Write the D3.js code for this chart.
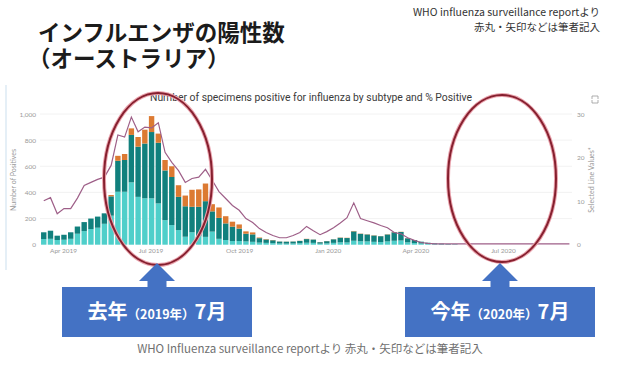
<!DOCTYPE html>
<html>
<head>
<meta charset="utf-8">
<script src="https://cdn.jsdelivr.net/npm/d3@7"></script>
<style>
  html, body { margin: 0; padding: 0; background: #fff; }
  svg { display: block; }
</style>
</head>
<body>
<svg width="622" height="366"></svg>
<script>
// weekly counts (bottom / middle / top segment)
var lightVals = [43, 45, 36, 38, 45, 84, 104, 120, 130, 160,
  222, 405, 405, 477, 366, 355, 355, 316, 188, 150,
  112, 61, 95, 65, 60, 100, 45, 36, 28, 28,
  25, 22, 16, 14, 12, 9, 8, 9, 11, 15,
  14, 8, 10, 14, 18, 17, 30, 26, 25, 22,
  20, 25, 30, 32, 18, 13, 9, 6, 4, 3, 2, 2];
var darkVals = [52, 62, 33, 38, 50, 55, 69, 80, 85, 80,
  148, 237, 243, 363, 384, 419, 507, 464, 380, 368,
  254, 233, 195, 225, 273, 155, 160, 127, 110, 95,
  59, 57, 34, 26, 22, 15, 15, 15, 18, 28,
  25, 11, 17, 27, 35, 34, 72, 57, 53, 48,
  45, 53, 65, 65, 31, 23, 14, 9, 6, 5, 3, 2];
var orangeVals = [0, 0, 0, 0, 0, 0, 0, 0, 0, 0,
  10, 38, 46, 50, 74, 106, 122, 70, 80, 82,
  89, 82, 130, 133, 135, 55, 80, 55, 38, 32,
  18, 15, 5, 3, 2, 1, 1, 1, 1, 2,
  1, 1, 1, 1, 2, 2, 3, 2, 2, 2,
  1, 2, 2, 2, 1, 0, 0, 0, 0, 0, 0, 0];
// % positive (right axis)
var pctVals = [10.1, 10.8, 7.1, 8.3, 8.3, 10.7, 13.6, 14.3, 15.0, 15.5,
  18.2, 25.2, 24.7, 29.3, 25.9, 27.0, 26.8, 28.0, 21.2, 18.9,
  17.0, 14.3, 15.2, 15.5, 17.3, 14.8, 12.2, 10.6, 9.0, 7.9,
  6.0, 5.1, 3.7, 2.8, 2.1, 1.6, 1.6, 2.1, 2.8, 4.2,
  3.2, 2.3, 3.0, 3.9, 5.0, 6.2, 9.6, 6.0, 5.5, 5.0,
  4.4, 3.9, 2.8, 2.5, 1.6, 1.0, 0.5, 0.3, 0.2, 0.2,
  0.2, 0.2, 0.2, 0.2, 0.2, 0.2, 0.2, 0.2, 0.2, 0.2,
  0.2, 0.2, 0.2, 0.2, 0.2, 0.2, 0.2, 0.2, 0.2];
var firstWeek = new Date(2019, 2, 12);
var weeks = d3.range(pctVals.length).map(function (i) { return d3.timeDay.offset(firstWeek, 7 * i); });
var xTicks = [new Date(2019, 3, 1), new Date(2019, 6, 1), new Date(2019, 9, 1),
  new Date(2020, 0, 1), new Date(2020, 3, 1), new Date(2020, 6, 1)];
var leftTicks = [0, 200, 400, 600, 800, 1000];
var rightTicks = [0, 10, 20, 30];
var keys = ["light", "dark", "orange"];
var colors = { light: "#4fcfca", dark: "#11807d", orange: "#dc7a32" };

var svg = d3.select("svg");
var jp = "'Noto Sans CJK JP', 'Noto Sans', sans-serif";

// scales
var x = d3.scaleTime().domain([xTicks[0], xTicks[5]]).range([63, 503]);
var yL = d3.scaleLinear().domain([0, 1000]).range([244.7, 114]);
var yR = d3.scaleLinear().domain([0, 30]).range([244.7, 114]);

// headings (two-line title kept in one text element)
var head = svg.append("text")
  .attr("font-family", jp).attr("font-weight", 700).attr("font-size", 22.5).attr("fill", "#1b1b1b");
head.append("tspan").attr("x", 38).attr("y", 41).text("インフルエンザの陽性数");
head.append("tspan").attr("x", 28).attr("y", 67).text("（オーストラリア）");

svg.append("text").attr("x", 600).attr("y", 16).attr("text-anchor", "end")
  .attr("font-family", jp).attr("font-size", 10.5).attr("fill", "#333")
  .text("WHO influenza surveillance reportより");
svg.append("text").attr("x", 600).attr("y", 31).attr("text-anchor", "end")
  .attr("font-family", jp).attr("font-size", 10.5).attr("fill", "#333")
  .text("赤丸・矢印などは筆者記入");

// faint panel edge on the left
svg.append("line").attr("x1", 6).attr("x2", 6).attr("y1", 85).attr("y2", 270)
  .attr("stroke", "#d4e5f1").attr("stroke-width", 1.2);

// chart title + icon
svg.append("text").attr("x", 311).attr("y", 101).attr("text-anchor", "middle")
  .attr("font-family", "Roboto, sans-serif").attr("font-size", 10).attr("fill", "#3a3a3a")
  .attr("textLength", 322).attr("lengthAdjust", "spacingAndGlyphs")
  .text("Number of specimens positive for influenza by subtype and % Positive");
svg.append("path").attr("d", "M592,96 h3 M592,96 v3 M598,96 h-3 M598,96 v3 M592,103 h3 M592,103 v-3 M598,103 h-3 M598,103 v-3")
  .attr("stroke", "#999").attr("stroke-width", 0.8).attr("fill", "none");

// gridlines
svg.append("g").selectAll("line").data(leftTicks.slice(1)).join("line")
  .attr("x1", 40).attr("x2", 572)
  .attr("y1", function (d) { return yL(d); }).attr("y2", function (d) { return yL(d); })
  .attr("stroke", "#efefef").attr("stroke-width", 0.8);

// axes
var axL = svg.append("g").attr("transform", "translate(36,0)")
  .call(d3.axisLeft(yL).tickValues(leftTicks).tickFormat(d3.format(",")).tickSize(0).tickPadding(0));
var axR = svg.append("g").attr("transform", "translate(577,0)")
  .call(d3.axisRight(yR).tickValues(rightTicks).tickSize(0).tickPadding(0));
var axX = svg.append("g").attr("transform", "translate(0,248)")
  .call(d3.axisBottom(x).tickValues(xTicks).tickFormat(d3.timeFormat("%b %Y")).tickSize(0).tickPadding(0));
[axL, axR, axX].forEach(function (g) {
  g.select(".domain").remove();
  g.selectAll("text").attr("font-family", "Lato, sans-serif").attr("font-size", 6.5).attr("fill", "#9a9a9a");
});
axX.selectAll("text").attr("dy", "0.71em");

svg.append("text").attr("transform", "translate(16,180) rotate(-90)").attr("text-anchor", "middle")
  .attr("font-family", "Lato, sans-serif").attr("font-size", 7).attr("fill", "#9a9a9a").text("Number of Positives");
svg.append("text").attr("transform", "translate(594,180) rotate(-90)").attr("text-anchor", "middle")
  .attr("font-family", "Lato, sans-serif").attr("font-size", 7).attr("fill", "#9a9a9a").text("Selected Line Values*");

// stacked bars
var rows = lightVals.map(function (v, i) {
  return { date: weeks[i], light: v, dark: darkVals[i], orange: orangeVals[i] };
});
var series = d3.stack().keys(keys)(rows);
svg.append("g").selectAll("g").data(series).join("g")
  .attr("fill", function (s) { return colors[s.key]; })
  .selectAll("rect").data(function (s) { return s; }).join("rect")
  .attr("x", function (d) { return x(d.data.date) - 2.7; })
  .attr("width", 5.4)
  .attr("y", function (d) { return yL(d[1]); })
  .attr("height", function (d) { return Math.max(0, yL(d[0]) - yL(d[1])); });

// % positive line
svg.append("path").datum(pctVals)
  .attr("fill", "none").attr("stroke", "#9e5f88").attr("stroke-width", 1.2)
  .attr("d", d3.line().x(function (d, i) { return x(weeks[i]); }).y(function (d) { return yR(d); }));

// red ellipses
var rings = [{ cx: 158, cy: 179, rx: 54, ry: 86 }, { cx: 502, cy: 178.5, rx: 54, ry: 83.5 }];
svg.append("g").selectAll("ellipse").data(rings).join("ellipse")
  .attr("cx", function (d) { return d.cx; }).attr("cy", function (d) { return d.cy; })
  .attr("rx", function (d) { return d.rx; }).attr("ry", function (d) { return d.ry; })
  .attr("fill", "none").attr("stroke", "#eaa4ae").attr("stroke-width", 4);
svg.append("g").selectAll("ellipse").data(rings).join("ellipse")
  .attr("cx", function (d) { return d.cx; }).attr("cy", function (d) { return d.cy; })
  .attr("rx", function (d) { return d.rx; }).attr("ry", function (d) { return d.ry; })
  .attr("fill", "none").attr("stroke", "#86202f").attr("stroke-width", 2);

// arrows + boxes
var callouts = [
  { cx: 157, big1: "去年", small: "（2019年）", big2: "7月" },
  { cx: 500, big1: "今年", small: "（2020年）", big2: "7月" }
];
callouts.forEach(function (c) {
  var g = svg.append("g");
  g.append("path")
    .attr("d", "M" + c.cx + ",263 L" + (c.cx + 18) + ",281 L" + (c.cx + 9.5) + ",281 L" + (c.cx + 9.5) + ",288" +
      " L" + (c.cx - 9.5) + ",288 L" + (c.cx - 9.5) + ",281 L" + (c.cx - 18) + ",281 Z")
    .attr("fill", "#4472c4");
  g.append("rect").attr("x", c.cx - 95).attr("y", 287).attr("width", 190).attr("height", 50)
    .attr("fill", "#4472c4");
  var t = g.append("text").attr("x", c.cx).attr("y", 319).attr("text-anchor", "middle")
    .attr("font-family", jp).attr("font-weight", 700).attr("fill", "#fff");
  t.append("tspan").attr("font-size", 20).text(c.big1);
  t.append("tspan").attr("font-size", 12.5).text(c.small);
  t.append("tspan").attr("font-size", 20).text(c.big2);
});

// caption
svg.append("text").attr("x", 310).attr("y", 353).attr("text-anchor", "middle")
  .attr("font-family", jp).attr("font-size", 11.5).attr("fill", "#707070")
  .text("WHO Influenza surveillance reportより 赤丸・矢印などは筆者記入");
</script>
</body>
</html>
